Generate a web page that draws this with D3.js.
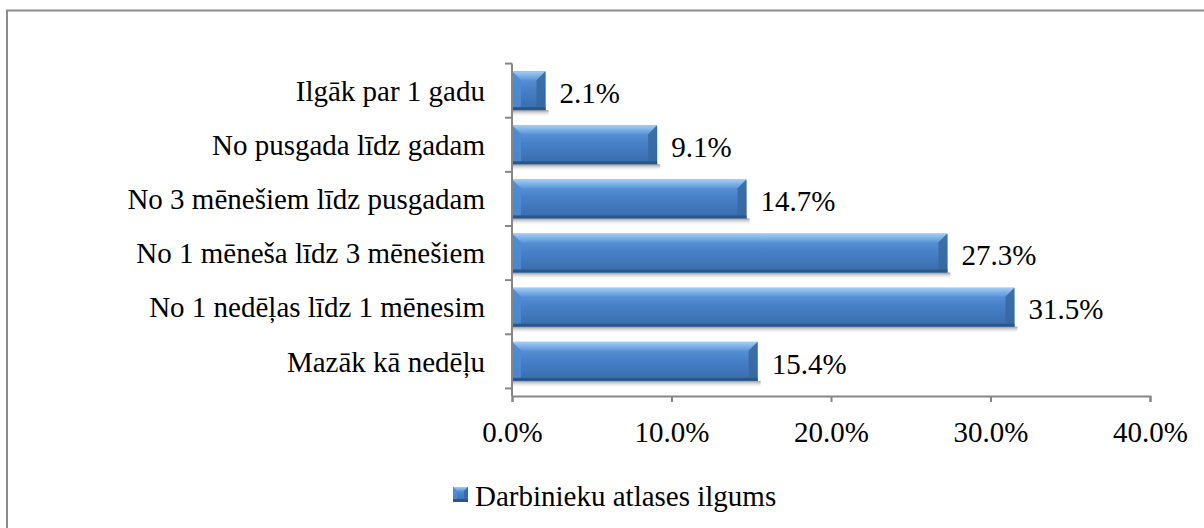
<!DOCTYPE html>
<html>
<head>
<meta charset="utf-8">
<script src="https://cdn.jsdelivr.net/npm/d3@7"></script>
<style>
  body { margin: 0; background: #fff; }
  text { font-family: "Liberation Serif", "Times New Roman", serif; fill: #000; }
</style>
</head>
<body>
<svg id="chart" width="1204" height="528"></svg>
<script>
// chart values
const categories = [
    "Ilgāk par 1 gadu",
    "No pusgada līdz gadam",
    "No 3 mēnešiem līdz pusgadam",
    "No 1 mēneša līdz 3 mēnešiem",
    "No 1 nedēļas līdz 1 mēnesim",
    "Mazāk kā nedēļu"
];
const values = [2.1, 9.1, 14.7, 27.3, 31.5, 15.4];
const xTicks = [0, 10, 20, 30, 40];
const seriesName = "Darbinieku atlases ilgums";

const fontSize = 29;
const svg = d3.select('#chart');
const defs = svg.append('defs');

// gradients
let g = defs.append('linearGradient').attr('id', 'barFill').attr('x1', 0).attr('y1', 0).attr('x2', 0).attr('y2', 1);
g.append('stop').attr('offset', '0%').attr('stop-color', '#659ddf');
g.append('stop').attr('offset', '45%').attr('stop-color', '#4881c8');
g.append('stop').attr('offset', '100%').attr('stop-color', '#386cac');

g = defs.append('linearGradient').attr('id', 'topBevel').attr('x1', 0).attr('y1', 0).attr('x2', 0).attr('y2', 1);
g.append('stop').attr('offset', '0%').attr('stop-color', '#a3cdf5');
g.append('stop').attr('offset', '100%').attr('stop-color', '#5a94d8');

g = defs.append('linearGradient').attr('id', 'shadow').attr('x1', 0).attr('y1', 0).attr('x2', 0).attr('y2', 1);
g.append('stop').attr('offset', '0%').attr('stop-color', '#9a9a9a');
g.append('stop').attr('offset', '100%').attr('stop-color', '#ffffff').attr('stop-opacity', 0);

// outer frame
svg.append('rect')
    .attr('x', 7).attr('y', 10.5)
    .attr('width', 1400).attr('height', 700)
    .attr('fill', 'none')
    .attr('stroke', '#8c8c8c')
    .attr('stroke-width', 2);

const x = d3.scaleLinear().domain([0, 40]).range([512, 1150]);
const y = d3.scaleBand().domain(categories).range([56, 396]).padding(0.28);

const chart = svg.append('g');

function drawBevelBox(parent, x0, x1, y0, y1, bev) {
    parent.append('rect')
        .attr('x', x0).attr('y', y0)
        .attr('width', x1 - x0).attr('height', y1 - y0)
        .attr('fill', 'url(#barFill)');
    // top bevel
    parent.append('polygon')
        .attr('points', [[x0, y0], [x1, y0], [x1 - bev, y0 + bev], [x0 + bev, y0 + bev]].join(' '))
        .attr('fill', 'url(#topBevel)');
    // left bevel
    parent.append('polygon')
        .attr('points', [[x0, y0], [x0 + bev, y0 + bev], [x0 + bev, y1 - 3], [x0, y1]].join(' '))
        .attr('fill', '#4f8bd3').attr('opacity', 0.85);
    // right bevel
    parent.append('polygon')
        .attr('points', [[x1, y0], [x1, y1], [x1 - bev, y1 - 3], [x1 - bev, y0 + bev]].join(' '))
        .attr('fill', '#36699f').attr('opacity', 0.85);
    // bottom dark edge
    parent.append('rect')
        .attr('x', x0).attr('y', y1 - 3)
        .attr('width', x1 - x0).attr('height', 3)
        .attr('fill', '#2a5688');
}

// bars
categories.forEach((c, i) => {
    const x0 = x(0), x1 = x(values[i]);
    const y0 = y(c), h = y.bandwidth(), y1 = y0 + h;
    const bar = chart.append('g');

    bar.append('rect')
        .attr('x', x0).attr('y', y1)
        .attr('width', x1 - x0 + 3).attr('height', 7)
        .attr('fill', 'url(#shadow)');

    drawBevelBox(bar, x0, x1, y0, y1, 9);

    // value label
    chart.append('text')
        .attr('x', x1 + 14)
        .attr('y', y0 + h / 2)
        .attr('dy', '0.42em')
        .attr('font-size', fontSize)
        .text(values[i].toFixed(1) + '%');

    // category label
    chart.append('text')
        .attr('x', 485)
        .attr('y', y0 + h / 2)
        .attr('dy', '0.35em')
        .attr('text-anchor', 'end')
        .attr('font-size', fontSize)
        .text(c);
});

// y axis with ticks at band boundaries
const axisColor = '#868686';
const step = y.step();
const bounds = categories.map(c => y(c) - step * y.paddingInner() / 2);
bounds.push(bounds[bounds.length - 1] + step);
chart.append('line')
    .attr('x1', 512).attr('x2', 512)
    .attr('y1', bounds[0]).attr('y2', 396)
    .attr('stroke', axisColor).attr('stroke-width', 2);
chart.selectAll('.ytick').data(bounds).enter().append('line')
    .attr('x1', 505).attr('x2', 512)
    .attr('y1', d => d).attr('y2', d => d)
    .attr('stroke', axisColor).attr('stroke-width', 2);

// x axis
const xAxis = d3.axisBottom(x)
    .tickValues(xTicks)
    .tickSize(6)
    .tickFormat(d => d.toFixed(1) + '%');
const xg = svg.append('g').attr('transform', 'translate(0,396)').call(xAxis);
xg.select('.domain').attr('stroke', axisColor).attr('stroke-width', 2);
xg.selectAll('.tick line').attr('stroke', axisColor).attr('stroke-width', 2);
xg.selectAll('.tick text')
    .attr('y', 46).attr('dy', 0)
    .attr('font-size', fontSize)
    .attr('font-family', '"Liberation Serif", "Times New Roman", serif')
    .attr('fill', '#000');

// legend
const lg = svg.append('g');
drawBevelBox(lg, 453, 468, 487, 502, 4);
lg.append('text')
    .attr('x', 475).attr('y', 506)
    .attr('font-size', fontSize)
    .text(seriesName);
</script>
</body>
</html>
